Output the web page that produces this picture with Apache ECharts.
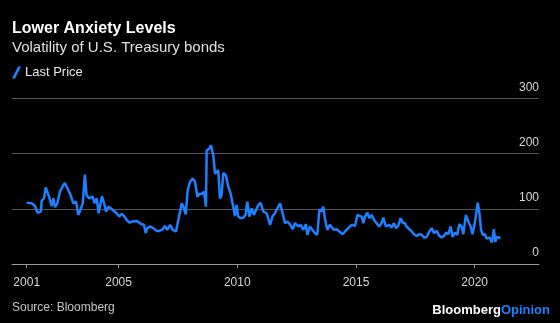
<!DOCTYPE html>
<html>
<head>
<meta charset="utf-8">
<script src="https://cdn.jsdelivr.net/npm/echarts@6/dist/echarts.min.js"></script>
<style>
html,body{margin:0;padding:0;background:#000;}
#chart{width:560px;height:323px;}
</style>
</head>
<body>
<div id="chart"></div>
<script>
// Decimal-year dates and values
const dates = [
2001.13,2001.34,2001.48,2001.58,2001.66,2001.73,2001.76,2001.86,2001.93,2002.00,
2002.08,2002.18,2002.25,2002.32,2002.42,2002.53,2002.67,2002.74,2002.88,2002.98,
2003.09,2003.21,2003.30,2003.40,2003.49,2003.58,2003.65,2003.75,2003.82,2003.91,
2003.99,2004.08,2004.16,2004.22,2004.30,2004.39,2004.47,2004.57,2004.67,2004.78,
2004.92,2005.02,2005.13,2005.23,2005.34,2005.45,2005.59,2005.76,2005.87,2005.97,
2006.07,2006.14,2006.21,2006.32,2006.46,2006.60,2006.72,2006.86,2006.95,2007.05,
2007.17,2007.28,2007.42,2007.52,2007.66,2007.73,2007.83,2007.91,2008.01,2008.12,
2008.22,2008.32,2008.40,2008.50,2008.60,2008.68,2008.71,2008.82,2008.89,2008.99,
2009.06,2009.13,2009.20,2009.27,2009.34,2009.41,2009.52,2009.62,2009.72,2009.83,
2009.90,2009.97,2010.04,2010.14,2010.25,2010.35,2010.42,2010.51,2010.61,2010.70,
2010.82,2010.89,2010.98,2011.10,2011.24,2011.38,2011.49,2011.59,2011.69,2011.80,
2011.91,2012.01,2012.11,2012.22,2012.33,2012.43,2012.57,2012.67,2012.78,2012.89,
2012.95,2013.06,2013.16,2013.27,2013.37,2013.46,2013.54,2013.62,2013.69,2013.79,
2013.90,2013.97,2014.07,2014.19,2014.30,2014.44,2014.54,2014.68,2014.82,2014.96,
2015.06,2015.14,2015.24,2015.31,2015.38,2015.48,2015.56,2015.66,2015.76,2015.87,
2015.98,2016.08,2016.15,2016.26,2016.40,2016.50,2016.60,2016.69,2016.78,2016.88,
2016.97,2017.06,2017.13,2017.25,2017.35,2017.44,2017.56,2017.67,2017.77,2017.86,
2017.98,2018.09,2018.19,2018.29,2018.40,2018.51,2018.61,2018.71,2018.79,2018.89,
2018.99,2019.07,2019.17,2019.27,2019.35,2019.45,2019.52,2019.63,2019.73,2019.83,
2019.91,2020.01,2020.13,2020.20,2020.27,2020.34,2020.43,2020.50,2020.57,2020.64,
2020.72,2020.76,2020.81,2020.87,2020.93,2021.00,2021.09
];
const values = [
111,110,105,93,90,95,115,119,139,137,
121,105,119,103,110,131,143,147,134,125,
110,113,89,99,110,162,125,119,116,122,
110,119,92,105,123,110,95,104,101,97,
92,86,91,87,80,75,77,78,75,72,
71,56,65,68,65,60,60,63,69,62,
71,62,59,80,110,104,90,134,149,155,
149,122,127,127,131,104,206,209,215,197,
164,161,170,119,125,165,161,140,128,104,
87,107,86,83,84,89,113,86,101,89,
101,107,111,95,92,71,87,92,101,110,
92,74,77,72,63,74,68,71,62,72,
53,68,62,56,53,99,95,104,83,62,
71,74,62,63,59,54,59,65,71,69,
89,92,86,74,86,93,83,89,80,74,
68,74,84,68,71,66,74,65,69,83,
75,74,68,63,59,54,51,54,53,48,
49,59,65,56,60,51,48,51,57,54,
68,49,57,53,72,68,54,89,77,68,
54,75,111,92,62,53,54,46,45,48,
39,48,63,40,49,46,47
];
const yTicks = [0, 100, 200, 300];
const xTickYears = [2001.13, 2005, 2010, 2015, 2020];
const seriesName = 'Last Price';

const pts = dates.map((d, i) => [d, values[i]]);
const font = 'Liberation Sans, Arial, Helvetica, sans-serif';

const chart = echarts.init(document.getElementById('chart'), null, {renderer: 'canvas'});
chart.setOption({
  backgroundColor: '#000',
  animation: false,
  textStyle: {fontFamily: font},
  title: [{
    text: 'Lower Anxiety Levels',
    subtext: 'Volatility of U.S. Treasury bonds',
    left: 12, top: 21, padding: 0,
    itemGap: 3,
    textStyle: {color: '#ffffff', fontSize: 16, fontWeight: 'bold', fontFamily: font},
    subtextStyle: {color: '#e0e0e0', fontSize: 15, fontFamily: font}
  }],
  legend: {
    left: 12, top: 66, padding: 0,
    itemWidth: 9, itemHeight: 12, itemGap: 10,
    icon: 'path://M6,0 L9,0 L3,12 L0,12 Z',
    textStyle: {color: '#e8e8e8', fontSize: 13, fontFamily: font, padding: [0,0,0,-1]},
    data: [seriesName]
  },
  grid: {left: 12, right: 21, top: 98.5, bottom: 59, containLabel: false},
  xAxis: {
    type: 'value',
    min: 2000.51, max: 2022.71,
    axisLine: {show: true, lineStyle: {color: '#9a9a9a', width: 1}},
    axisTick: {show: true, customValues: xTickYears, length: 4, inside: false, lineStyle: {color: '#9a9a9a'}},
    axisLabel: {customValues: xTickYears, color: '#d8d8d8', fontSize: 12, margin: 13, fontFamily: font,
      formatter: v => String(Math.floor(v))},
    splitLine: {show: false}
  },
  yAxis: {
    type: 'value', position: 'right',
    min: 0, max: 300, interval: 100,
    axisLine: {show: false}, axisTick: {show: false},
    axisLabel: {inside: true, color: '#d8d8d8', fontSize: 12, margin: 0, fontFamily: font,
      verticalAlign: 'bottom', align: 'right', padding: [0, 0, 5, 0],
      formatter: v => yTicks.includes(v) ? String(v) : ''},
    splitLine: {show: true, lineStyle: {color: '#555555', width: 1.2}}
  },
  series: [{
    name: seriesName,
    type: 'line',
    data: pts,
    showSymbol: false,
    symbol: 'none',
    lineStyle: {color: '#1f80ff', width: 2.5},
    itemStyle: {color: '#1f80ff'}
  }],
  graphic: [
    {type: 'text', left: 12, top: 302,
      style: {text: 'Source: Bloomberg', fill: '#c4c4c4', font: '12px ' + font}},
    {type: 'text', right: 10, top: 304,
      style: {text: '{a|Bloomberg}{b|Opinion}',
        rich: {a: {fill: '#ffffff', fontSize: 13, fontWeight: 'bold', fontFamily: font},
               b: {fill: '#1f80ff', fontSize: 13, fontWeight: 'bold', fontFamily: font}}}}
  ]
});
</script>
</body>
</html>
